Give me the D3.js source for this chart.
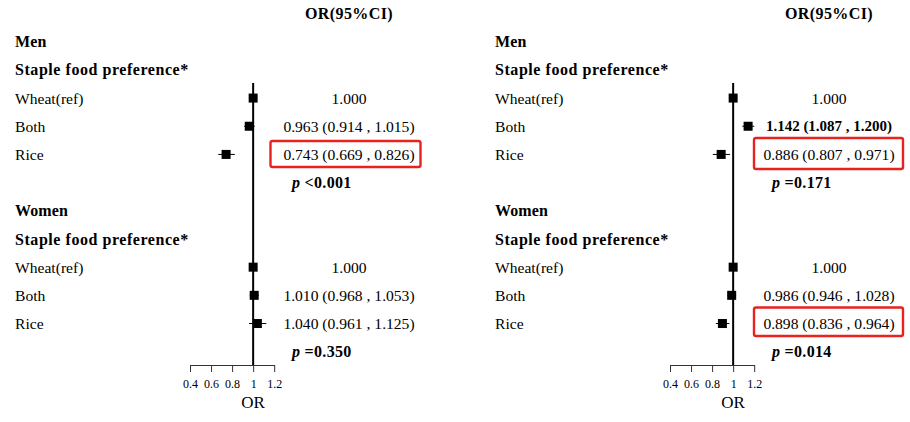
<!DOCTYPE html>
<html>
<head>
<meta charset="utf-8">
<script src="https://cdn.jsdelivr.net/npm/d3@7"></script>
<style>
  body { margin: 0; background: #fff; }
  svg { font-family: "Liberation Serif", "Times New Roman", serif; }
</style>
</head>
<body>
<svg width="910" height="422"></svg>
<script>
// categories
const levels = ["Wheat(ref)", "Both", "Rice"]
const groups = ["Men", "Women"]
const header = "OR(95%CI)"
const subheader = "Staple food preference*"

// left panel
const left_or = [[1.000, 0.963, 0.743], [1.000, 1.010, 1.040]]
const left_lo = [[null, 0.914, 0.669], [null, 0.968, 0.961]]
const left_hi = [[null, 1.015, 0.826], [null, 1.053, 1.125]]
const left_p = ["<0.001", "=0.350"]

// right panel
const right_or = [[1.000, 1.142, 0.886], [1.000, 0.986, 0.898]]
const right_lo = [[null, 1.087, 0.807], [null, 0.946, 0.836]]
const right_hi = [[null, 1.200, 0.971], [null, 1.028, 0.964]]
const right_p = ["=0.171", "=0.014"]

// axis ticks
const tick_values = [0.4, 0.6, 0.8, 1, 1.2]
const tick_labels = ["0.4", "0.6", "0.8", "1", "1.2"]

const svg = d3.select("svg")

// row positions (12 rows: group, subheader, 3 levels, p) x 2
const y_scale = d3.scaleLinear().domain([0, 11]).range([41.7, 351.7])

const boldSize = 16, boldSpacing = 0.4, textSize = 15.6

function drawPanel(offset, ors, los, his, ps, boldRows) {
  const g = svg.append("g").attr("transform", `translate(${offset}, 0)`)

  const x_scale = d3.scaleLinear()
    .domain([0.4, 1.2])
    .range([190, 274.2])

  const axisY = 365

  g.append("text")
    .attr("x", 349).attr("y", 13.5).attr("dy", ".35em")
    .attr("text-anchor", "middle")
    .attr("font-weight", "bold").attr("font-size", boldSize)
    .attr("letter-spacing", boldSpacing)
    .text(header)

  // reference line at OR = 1
  g.append("line")
    .attr("x1", x_scale(1)).attr("x2", x_scale(1))
    .attr("y1", 83).attr("y2", axisY)
    .attr("stroke", "#000").attr("stroke-width", 2)

  groups.forEach((grp, gi) => {
    const base = gi * 6
    g.append("text")
      .attr("x", 15).attr("y", y_scale(base)).attr("dy", ".35em")
      .attr("font-weight", "bold").attr("font-size", boldSize)
      .attr("letter-spacing", 0.1)
      .text(grp)
    g.append("text")
      .attr("x", 15).attr("y", y_scale(base + 1)).attr("dy", ".35em")
      .attr("font-weight", "bold").attr("font-size", boldSize)
      .attr("letter-spacing", 0.55)
      .text(subheader)

    const rows = levels.map((lv, i) => ({
      label: lv, or: ors[gi][i], lo: los[gi][i], hi: his[gi][i], y: y_scale(base + 2 + i),
      bold: boldRows.includes(`${gi}-${i}`)
    }))

    g.selectAll(null).data(rows).join("text")
      .attr("x", 15).attr("y", d => d.y).attr("dy", ".35em")
      .attr("font-size", textSize)
      .text(d => d.label)

    g.selectAll(null).data(rows.filter(d => d.lo != null)).join("line")
      .attr("x1", d => x_scale(d.lo)).attr("x2", d => x_scale(d.hi))
      .attr("y1", d => d.y).attr("y2", d => d.y)
      .attr("stroke", "#000").attr("stroke-width", 1)

    g.selectAll(null).data(rows).join("rect")
      .attr("x", d => x_scale(d.or) - 4.5).attr("y", d => d.y - 4.5)
      .attr("width", 9).attr("height", 9)
      .attr("fill", "#000")

    g.selectAll(null).data(rows).join("text")
      .attr("x", 349).attr("y", d => d.y).attr("dy", ".35em")
      .attr("text-anchor", "middle").attr("font-size", d => d.bold ? 15 : textSize)
      .attr("font-weight", d => d.bold ? "bold" : "normal")
      .text(d => d.lo == null ? d.or.toFixed(3)
        : `${d.or.toFixed(3)} (${d.lo.toFixed(3)} , ${d.hi.toFixed(3)})`)

    const pt = g.append("text")
      .attr("x", 292).attr("y", y_scale(base + 5)).attr("dy", ".35em")
      .attr("font-weight", "bold").attr("font-size", boldSize)
      .attr("letter-spacing", 0.3)
    pt.append("tspan").attr("font-style", "italic").text("p")
    pt.append("tspan").text(" " + ps[gi])
  })

  const xAxis = d3.axisBottom(x_scale)
    .tickValues(tick_values)
    .tickFormat((d, i) => tick_labels[i])
    .tickSizeInner(7).tickSizeOuter(0)

  const ax = g.append("g")
    .attr("transform", `translate(0, ${axisY})`)
    .call(xAxis)
  ax.select(".domain").attr("stroke", "#333")
  ax.selectAll(".tick line").attr("stroke", "#333")
  ax.selectAll(".tick text")
    .attr("y", 19).attr("dy", ".35em")
    .attr("font-family", "Liberation Serif, Times New Roman, serif")
    .attr("font-size", 12).attr("fill", "#000")

  g.append("text")
    .attr("x", x_scale(1)).attr("y", 402).attr("dy", ".35em")
    .attr("text-anchor", "middle").attr("font-size", 17)
    .text("OR")
}

drawPanel(0, left_or, left_lo, left_hi, left_p, [])
drawPanel(480, right_or, right_lo, right_hi, right_p, ["0-1"])

// highlight boxes
const boxes = [
  { x: 270.5, y: 141, w: 150, h: 26 },
  { x: 754, y: 138, w: 149, h: 31 },
  { x: 754, y: 307.5, w: 149, h: 28.5 }
]
svg.selectAll(null).data(boxes).join("rect")
  .attr("x", d => d.x).attr("y", d => d.y)
  .attr("width", d => d.w).attr("height", d => d.h)
  .attr("rx", 2)
  .attr("fill", "none").attr("stroke", "#e8231f").attr("stroke-width", 2.4)
</script>
</body>
</html>
